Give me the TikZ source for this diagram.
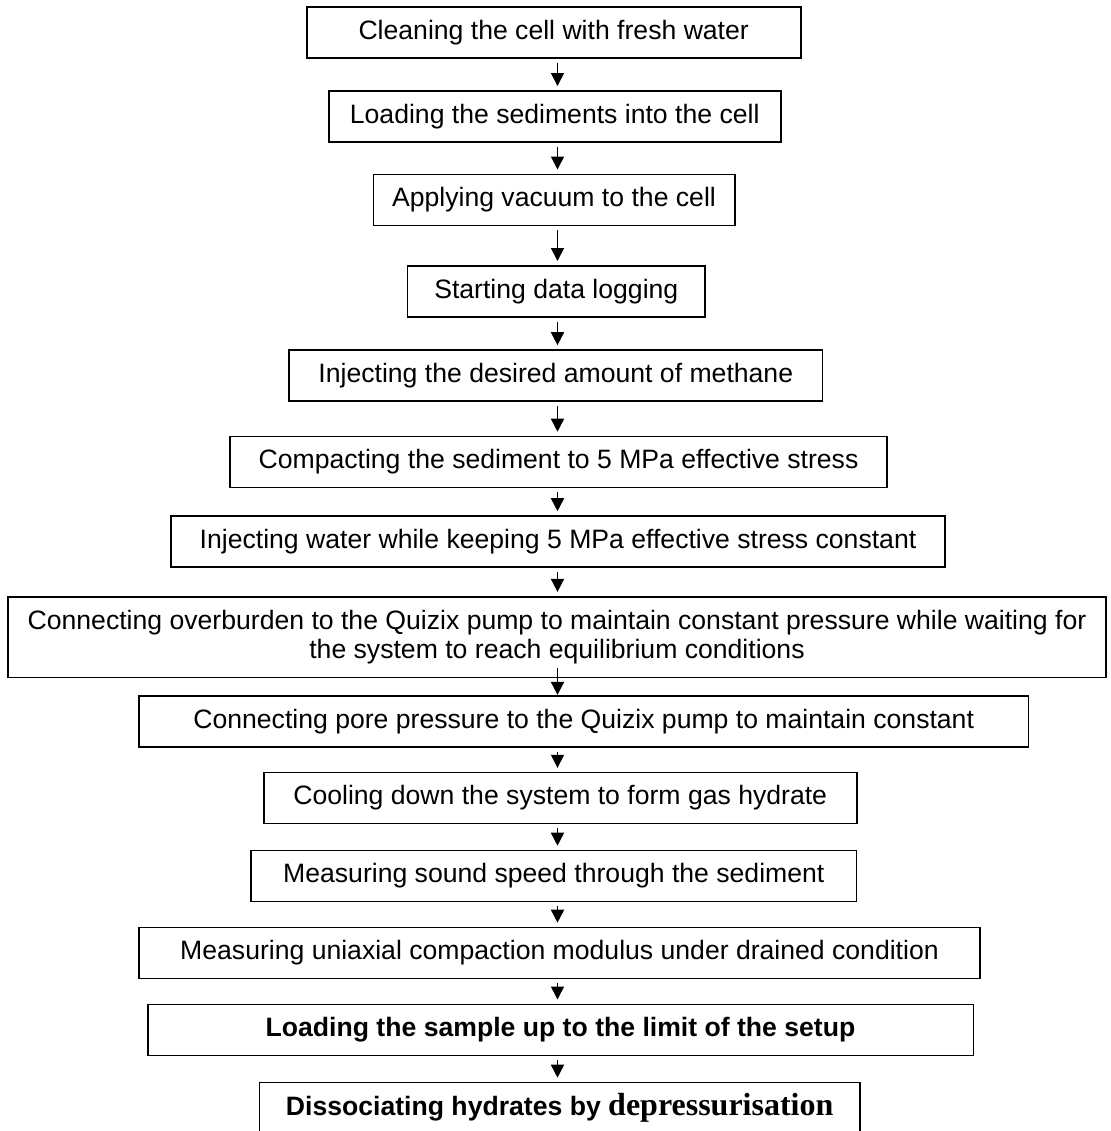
\documentclass[tikz,border=0pt]{standalone}
\usepackage{fontspec}
\setmainfont{Liberation Sans}
\newfontfamily\serifbf{Liberation Serif}
\usetikzlibrary{math}
\usetikzlibrary{arrows.meta}

\begin{document}
\begin{tikzpicture}[x=0.5pt, y=-0.5pt,
    stepbox/.style={draw, line width=0.8pt, inner sep=0pt, minimum height=25.5pt,
      align=center, font=\fontsize{13.3}{14.5}\selectfont},
    flow/.style={-{Triangle[length=6.5pt, width=6.5pt]}, line width=0.8pt,
      shorten <=2pt, shorten >=2pt}]
  \tikzmath{
    \ax=557.5;}
  \useasboundingbox (0,0) rectangle (1110,1131);
  \coordinate (axis) at (\ax,0);
  \node[stepbox, minimum width=247pt] (clean) at (553.7,32.3) {Cleaning the cell with fresh water};
  \node[stepbox, minimum width=226pt] (load) at (554.7,116.3) {Loading the sediments into the cell};
  \node[stepbox, minimum width=180.7pt] (vacuum) at (554,199.8) {Applying vacuum to the cell};
  \node[stepbox, minimum width=148.7pt] (logging) at (556.3,291.3) {Starting data logging};
  \node[stepbox, minimum width=266.8pt] (methane) at (555.8,375.5) {Injecting the desired amount of methane};
  \node[stepbox, minimum width=328.5pt] (compact) at (558.5,462) {Compacting the sediment to 5 MPa effective stress};
  \node[stepbox, minimum width=387pt] (water) at (558,541.5) {Injecting water while keeping 5 MPa effective stress constant};
  \node[stepbox, minimum width=549pt, minimum height=40.3pt] (overburden) at (557,637)
    {Connecting overburden to the Quizix pump to maintain constant pressure while waiting for\\
     the system to reach equilibrium conditions};
  \node[stepbox, minimum width=444.6pt] (pore) at (583.7,721.2) {Connecting pore pressure to the Quizix pump to maintain constant};
  \node[stepbox, minimum width=296.5pt] (cooling) at (560.2,798.1) {Cooling down the system to form gas hydrate};
  \node[stepbox, minimum width=302.8pt] (sound) at (553.8,876) {Measuring sound speed through the sediment};
  \node[stepbox, minimum width=420.5pt] (modulus) at (559.5,953) {Measuring uniaxial compaction modulus under drained condition};
  \node[stepbox, minimum width=412.8pt] (limit) at (560.5,1029.8) {\bfseries Loading the sample up to the limit of the setup};
  \node[stepbox, minimum width=300.3pt] (dissoc) at (559.7,1108)
    {\bfseries Dissociating hydrates by {\serifbf\bfseries\fontsize{16}{16}\selectfont depressurisation}};
  \draw[flow] (clean.south -| axis) -- (load.north -| axis);
  \draw[flow] (load.south -| axis) -- (vacuum.north -| axis);
  \draw[flow] (vacuum.south -| axis) -- (logging.north -| axis);
  \draw[flow] (logging.south -| axis) -- (methane.north -| axis);
  \draw[flow] (methane.south -| axis) -- (compact.north -| axis);
  \draw[flow] (compact.south -| axis) -- (water.north -| axis);
  \draw[flow] (water.south -| axis) -- (overburden.north -| axis);
  \draw[flow, shorten <=-5pt, shorten >=0pt] (overburden.south -| axis) -- (pore.north -| axis);
  \draw[flow] (pore.south -| axis) -- (cooling.north -| axis);
  \draw[flow] (cooling.south -| axis) -- (sound.north -| axis);
  \draw[flow] (sound.south -| axis) -- (modulus.north -| axis);
  \draw[flow] (modulus.south -| axis) -- (limit.north -| axis);
  \draw[flow] (limit.south -| axis) -- (dissoc.north -| axis);
\end{tikzpicture}
\end{document}
